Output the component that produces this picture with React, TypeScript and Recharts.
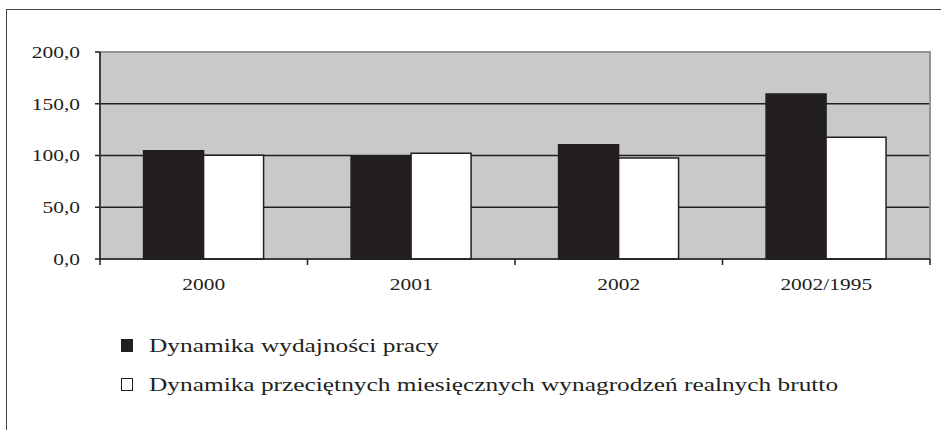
import React from "react";
import { BarChart, Bar, XAxis, YAxis, CartesianGrid, ReferenceArea, Legend } from "recharts";

const categories = ["2000", "2001", "2002", "2002/1995"];
const productivity = [104.6, 98.8, 110.4, 159.4];
const wages = [100.2, 102.1, 97.6, 117.6];
const yTicks = [0, 50, 100, 150, 200];

const SERIES = [
  { key: "productivity", name: "Dynamika wydajności pracy", fill: "#231f20" },
  { key: "wages", name: "Dynamika przeciętnych miesięcznych wynagrodzeń realnych brutto", fill: "#ffffff" },
];

const data = categories.map((c, i) => ({ cat: c, productivity: productivity[i], wages: wages[i] }));

const FONT = "Liberation Serif, Times New Roman, serif";
const INK = "#231f20";
const STRETCH = 1.3;

const fmt = (v: number) => v.toFixed(1).replace(".", ",");

function YTick({ x, y, payload }: any) {
  return (
    <text
      x={0}
      y={0}
      transform={`translate(${x},${y}) scale(${STRETCH},1)`}
      textAnchor="end"
      dy="0.35em"
      fontSize={16.5}
      fontFamily={FONT}
      fill={INK}
    >
      {fmt(payload.value)}
    </text>
  );
}

// category label plus tick marks on the category boundaries (Excel style)
function XTick({ x, y, payload, index, visibleTicksCount }: any) {
  const half = payload.offset || 0;
  const last = index === (visibleTicksCount ?? categories.length) - 1;
  return (
    <g>
      <line x1={x - half} x2={x - half} y1={y} y2={y + 6} stroke={INK} strokeWidth={1.5} />
      {last && <line x1={x + half} x2={x + half} y1={y} y2={y + 6} stroke={INK} strokeWidth={1.5} />}
      <text
        x={0}
        y={0}
        transform={`translate(${x},${y + 31}) scale(${STRETCH},1)`}
        textAnchor="middle"
        fontSize={16.5}
        fontFamily={FONT}
        fill={INK}
      >
        {payload.value}
      </text>
    </g>
  );
}

function LegendBox() {
  return (
    <div style={{ fontFamily: FONT, color: INK }}>
      {SERIES.map((s) => (
        <div key={s.key} style={{ display: "flex", alignItems: "center", height: 39 }}>
          <span
            style={{
              display: "inline-block",
              width: 10,
              height: 11,
              background: s.fill,
              border: `1.5px solid ${INK}`,
              marginRight: 16,
            }}
          />
          <span
            style={{
              display: "inline-block",
              fontSize: 19.5,
              whiteSpace: "nowrap",
              transform: `scaleX(${STRETCH})`,
              transformOrigin: "left center",
            }}
          >
            {s.name}
          </span>
        </div>
      ))}
    </div>
  );
}

export default function App() {
  return (
    <div style={{ position: "absolute", left: 0, top: 0, width: 941, height: 430, background: "#fff", overflow: "hidden" }}>
      <div
        style={{
          position: "absolute",
          left: 6,
          top: 9,
          width: 940,
          height: 430,
          borderTop: "1.5px solid #444",
          borderLeft: "1.5px solid #444",
        }}
      />
      <div style={{ position: "absolute", left: 0, top: 0 }}>
        <BarChart
          width={941}
          height={430}
          data={data}
          margin={{ top: 52, right: 11, left: 8, bottom: 141 }}
          barCategoryGap="21%"
          barGap={0}
        >
          <CartesianGrid vertical={false} stroke={INK} strokeWidth={1.5} fill="#c8c9cb" fillOpacity={1} />
          <ReferenceArea y1={0} y2={200} fill="none" stroke="#939393" strokeWidth={2} />
          <XAxis
            dataKey="cat"
            tick={<XTick />}
            tickLine={false}
            tickSize={0}
            tickMargin={0}
            axisLine={{ stroke: INK, strokeWidth: 1.5 }}
            height={30}
            interval={0}
          />
          <YAxis
            domain={[0, 200]}
            ticks={yTicks}
            tick={<YTick />}
            tickSize={5}
            tickMargin={15}
            tickLine={{ stroke: INK, strokeWidth: 1.5 }}
            axisLine={{ stroke: INK, strokeWidth: 1.5 }}
            width={92}
          />
          {SERIES.map((s) => (
            <Bar
              key={s.key}
              dataKey={s.key}
              name={s.name}
              fill={s.fill}
              stroke={INK}
              strokeWidth={1.5}
              isAnimationActive={false}
            />
          ))}
          <Legend
            layout="vertical"
            align="center"
            verticalAlign="middle"
            content={() => <LegendBox />}
            wrapperStyle={{ left: 121, top: 326, width: 800, height: 80 }}
          />
        </BarChart>
      </div>
    </div>
  );
}
